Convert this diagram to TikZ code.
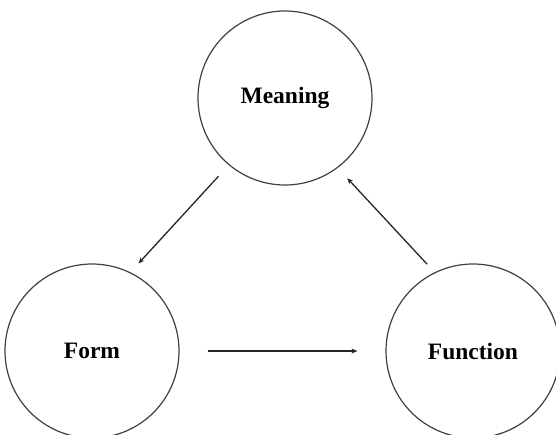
\documentclass[tikz,border=0pt]{standalone}
\usepackage{fontspec}
\setmainfont{Liberation Serif}
\usepackage{tikz}
\usetikzlibrary{arrows.meta,positioning}

\begin{document}
\begin{tikzpicture}[
  x=1pt,y=1pt,
  concept/.style={circle,draw=black!75,line width=1.2pt,
                  minimum size=174pt,inner sep=0pt,
                  font=\fontsize{23.5}{28}\selectfont\bfseries},
  arrow/.style={-{Stealth[length=6pt,width=5pt]},line width=1.3pt,draw=black!85},
  >=Stealth
]
\useasboundingbox (0,0) rectangle (556,434);

\node[concept] (meaning)  at (285,336) {Meaning};
\node[concept] (form)     at (92,83)   {Form};
\node[concept] (function) at (473,83)  {Function};

\draw[arrow,shorten <=15pt,shorten >=12pt] (meaning.230) -- (form.64);
\draw[arrow,shorten <=28pt,shorten >=28pt] (form.east) -- (function.west);
\draw[arrow,shorten <=11pt,shorten >=14pt] (function.116) -- (meaning.307);
\end{tikzpicture}
\end{document}
